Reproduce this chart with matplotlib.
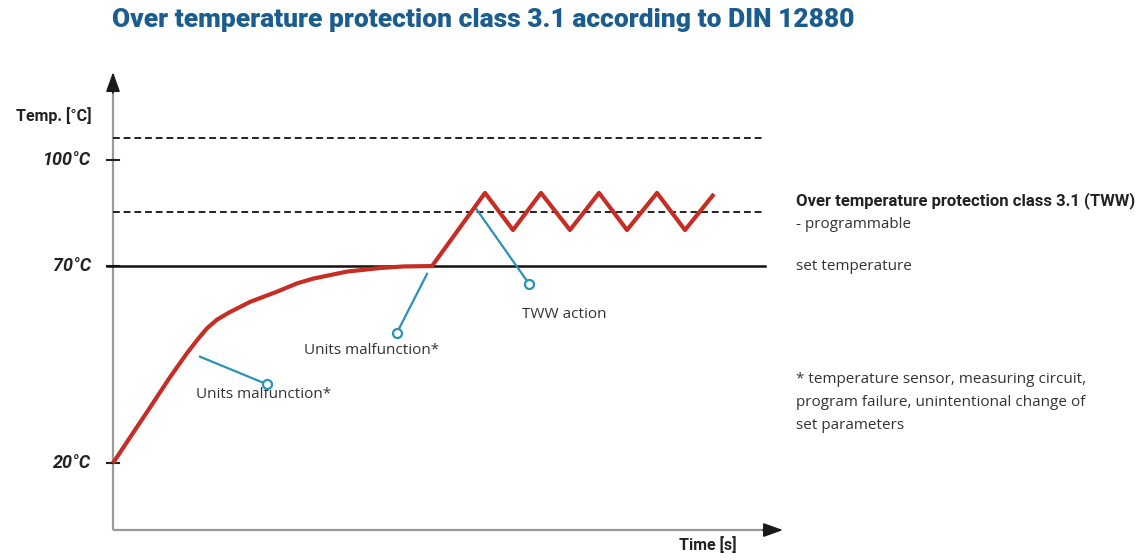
import matplotlib
matplotlib.use("Agg")
import matplotlib.pyplot as plt
import numpy as np

plt.rcParams['font.family'] = ['Roboto', 'DejaVu Sans']

# temperature curve (time in arbitrary units, temperature in degC)
heat_t = [0, 1.7, 3.7, 5.7, 7.4, 8.5, 9.4, 10.4, 11.6, 13.7, 16.4, 18.4, 20.0,
          23.4, 26.7, 29.0, 31.9]
heat_T = [20, 26.5, 34.1, 41.8, 47.9, 51.5, 54.2, 56.4, 58.2, 60.9, 63.5, 65.6,
          66.8, 68.6, 69.5, 69.9, 70]
zig_t = [37.2, 40.0, 42.8, 45.7, 48.6, 51.4, 54.4, 57.2, 60.1]
zig_T = [90.7, 80.2, 90.7, 80.2, 90.7, 80.2, 90.7, 80.2, 90.4]

set_temp = 70
tww_limit = 85.3
upper_limit = 106.2
tick_vals = [20, 70, 100]
tick_labels = ['20°C', '70°C', '100°C']

footnote = ['* temperature sensor, measuring circuit,',
            'program failure, unintentional change of',
            'set parameters']

RED = '#c62d24'
BLUE = '#2b92b6'
NAVY = '#1b5d8e'
GREY = '#9a9a9a'
INK = '#222222'
BODY = 'Open Sans'

# schematic temperature axis: different spacing below/above 70 degC
knots_T = [-200, 20, 70, 100, 300]
knots_h = [-866.8, 0, 197, 303, 1009.6]
def fwd(v):
    return np.interp(v, knots_T, knots_h)
def inv(v):
    return np.interp(v, knots_h, knots_T)

fig = plt.figure(figsize=(11.43, 5.6), dpi=100)
ax = fig.add_axes([0, 0, 1, 1])
ax.set_yscale('function', functions=(fwd, inv))
ax.set_xlim(-11.3, 103.0)
ax.set_ylim(-4.6, 145.3)
ax.axis('off')

# axes: grey lines with black arrow heads
ax.plot([0, 0], [3.0, 120.5], color=GREY, lw=1.6, solid_capstyle='butt')
ax.plot([0, 65.5], [3.0, 3.0], color=GREY, lw=1.6, solid_capstyle='butt')
head = dict(arrowstyle='-|>,head_width=0.43,head_length=1.2',
            color='#1a1a1a', lw=1.2, shrinkA=0, shrinkB=0)
ax.annotate('', xy=(0, 124.9), xytext=(0, 119.0), arrowprops=head)
ax.annotate('', xy=(67.0, 3.0), xytext=(65.0, 3.0), arrowprops=head)

# ticks and labels
for v, lab in zip(tick_vals, tick_labels):
    ax.plot([-0.6, 0.6], [v, v], color=INK, lw=1.5)
    ax.text(-2.2, v, lab, ha='right', va='center', fontsize=13,
            fontweight='bold', fontstyle='italic', color=INK)
ax.text(-2.1, inv(463 - 115), 'Temp. [°C]', ha='right', va='center',
        fontsize=11.5, fontweight='bold', color=INK)
ax.text(59.5, inv(463 - 544), 'Time [s]', ha='center', va='center',
        fontsize=11.5, fontweight='bold', color=INK)

# reference levels
ax.plot([0, 65.2], [upper_limit] * 2, color=INK, lw=1.4, ls=(0, (3.5, 2)))
ax.plot([0, 65.2], [tww_limit] * 2, color=INK, lw=1.4, ls=(0, (3.5, 2)))
ax.plot([-0.6, 65.2], [set_temp] * 2, color='#111111', lw=1.8)

# red temperature curve
ax.plot(heat_t + zig_t, heat_T + zig_T, color=RED, lw=3,
        solid_joinstyle='round', solid_capstyle='butt', zorder=5)

# callouts
callouts = [
    ((8.7, 47.0), (15.4, 40.0), 'Units malfunction*', (15.1, 37.3)),
    ((31.4, 68.0), (28.4, 53.1), 'Units malfunction*', (25.9, 48.5)),
    ((36.3, 86.3), (41.6, 65.5), 'TWW action', (45.1, 57.8)),
]
for start, end, label, tpos in callouts:
    ax.plot([start[0], end[0]], [start[1], end[1]], color=BLUE, lw=1.6, zorder=4)
    ax.plot(end[0], end[1], 'o', ms=6.5, mfc='white', mec=BLUE, mew=1.6, zorder=6)
    ax.text(tpos[0], tpos[1], label, ha='center', va='center',
            fontsize=11, color='#333333', family=BODY)

# right hand legend text
tx = 68.3
ax.text(tx, inv(463 - 200), 'Over temperature protection class 3.1 (TWW)',
        ha='left', va='center', fontsize=12, fontweight='bold', color=INK)
ax.text(tx, inv(463 - 224), '- programmable', ha='left', va='center',
        fontsize=11, color='#333333', family=BODY)
ax.text(tx, inv(463 - 266), 'set temperature', ha='left', va='center',
        fontsize=11, color='#333333', family=BODY)
for i, line in enumerate(footnote):
    ax.text(tx, inv(463 - (379 + 23 * i)), line, ha='left', va='center',
            fontsize=11, color='#333333', family=BODY)

fig.text(112 / 1143, 1 - 20 / 560,
         'Over temperature protection class 3.1 according to DIN 12880',
         ha='left', va='center', fontsize=19, fontweight='heavy', color=NAVY)

fig.savefig('out.png', dpi=100)
